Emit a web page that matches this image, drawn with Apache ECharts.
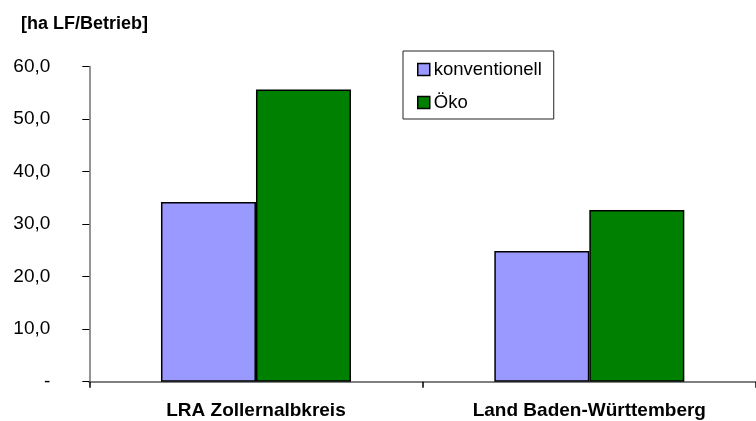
<!DOCTYPE html>
<html>
<head>
<meta charset="utf-8">
<script src="https://cdn.jsdelivr.net/npm/echarts@6/dist/echarts.min.js"></script>
<style>
  html, body { margin: 0; padding: 0; background: #fff; }
  #main { width: 756px; height: 421px; }
</style>
</head>
<body>
<div id="main"></div>
<script>
var categories = ["LRA Zollernalbkreis", "Land Baden-Württemberg"];
var konventionell = [34.2, 24.9];
var oeko = [55.6, 32.7];
var yTicks = { min: 0, max: 60, interval: 10 };

var font = "Liberation Sans";
var chart = echarts.init(document.getElementById("main"));

var options = {
  animation: false,
  backgroundColor: "#fff",
  textStyle: { fontFamily: font },
  title: {
    text: "[ha LF/Betrieb]",
    left: 21,
    top: 15,
    padding: 0,
    textStyle: { fontFamily: font, fontSize: 18, fontWeight: "bold", color: "#000" },
  },
  legend: {
    left: 403,
    top: 51,
    orient: "vertical",
    icon: "rect",
    itemWidth: 12,
    itemHeight: 12,
    itemGap: 14,
    padding: [9, 12, 7, 14],
    borderColor: "#222",
    borderWidth: 1,
    borderRadius: 0,
    textStyle: { fontFamily: font, fontSize: 18.5, color: "#000", padding: [0, 0, 0, -1] },
    data: [
      { name: "konventionell", itemStyle: { borderColor: "#000", borderWidth: 1.5 } },
      { name: "Öko", itemStyle: { borderColor: "#000", borderWidth: 1.5 } },
    ],
  },
  grid: {
    left: 89.3,
    right: -7.4,
    top: 66.5,
    bottom: 39.3,
    containLabel: false,
  },
  xAxis: {
    type: "category",
    data: categories,
    axisLine: { lineStyle: { color: "#808080", width: 2 } },
    axisTick: { show: true, length: 6, lineStyle: { color: "#000", width: 1.5 } },
    axisLabel: {
      margin: 20,
      fontFamily: font,
      fontSize: 19,
      fontWeight: "bold",
      color: "#000",
    },
    splitLine: { show: false },
  },
  yAxis: {
    type: "value",
    min: yTicks.min,
    max: yTicks.max,
    interval: yTicks.interval,
    axisLine: { show: true, lineStyle: { color: "#707070", width: 1.5 } },
    axisTick: { show: true, length: 7, lineStyle: { color: "#000", width: 1 } },
    splitLine: { show: false },
    axisLabel: {
      margin: 39,
      fontFamily: font,
      fontSize: 19,
      color: "#000",
      formatter: function (v) {
        return v === 0 ? "-" : v.toFixed(1).replace(".", ",");
      },
    },
  },
  series: [
    {
      name: "konventionell",
      type: "bar",
      data: konventionell,
      barGap: "0%",
      barCategoryGap: "43%",
      itemStyle: { color: "#9999FF", borderColor: "#000", borderWidth: 1.5 },
    },
    {
      name: "Öko",
      type: "bar",
      data: oeko,
      barGap: "0%",
      barCategoryGap: "43%",
      itemStyle: { color: "#008000", borderColor: "#000", borderWidth: 1.5 },
    },
  ],
};

chart.setOption(options);
</script>
</body>
</html>
